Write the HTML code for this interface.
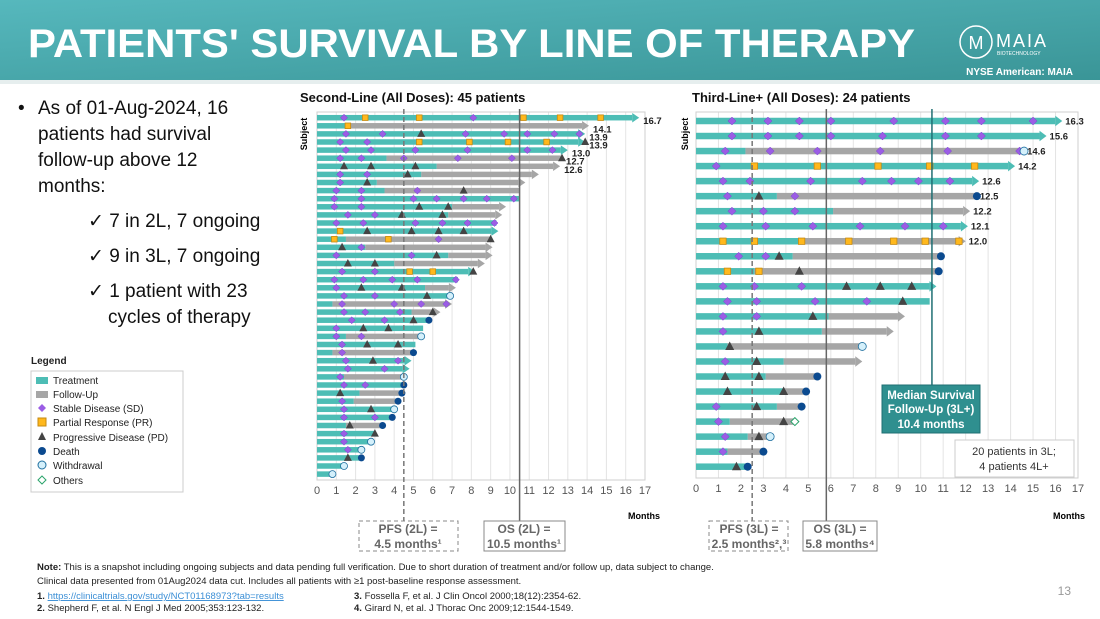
<!DOCTYPE html>
<html><head><meta charset="utf-8">
<style>
html,body{margin:0;padding:0;background:#fff;}
svg{display:block;font-family:"Liberation Sans",sans-serif;}
</style></head>
<body>
<svg id="s" width="1100" height="619" viewBox="0 0 1100 619" xmlns="http://www.w3.org/2000/svg">
<defs>
<linearGradient id="hdr" x1="0" y1="0" x2="1" y2="1">
<stop offset="0" stop-color="#56b8bd"/><stop offset="1" stop-color="#3a9597"/>
</linearGradient>
</defs>
<g>
<rect x="0" y="0" width="1100" height="80" fill="url(#hdr)"/>
<rect x="0" y="80" width="1100" height="4" fill="#e6eeee"/>
<text x="28" y="57" font-size="40" font-weight="bold" fill="#fff" textLength="887" lengthAdjust="spacingAndGlyphs">PATIENTS' SURVIVAL BY LINE OF THERAPY</text>
<g>
<circle cx="976" cy="42" r="16" fill="none" stroke="#fff" stroke-width="1.5"/>
<text x="976" y="49" font-size="18" fill="#fff" text-anchor="middle">M</text>
<text x="996" y="47" font-size="18" fill="#fff" letter-spacing="2">MAIA</text>
<text x="997" y="55" font-size="5" fill="#fff">BIOTECHNOLOGY</text>
<text x="1073" y="75" font-size="10" font-weight="bold" fill="#fff" text-anchor="end">NYSE American: MAIA</text>
</g>
</g>

<g font-size="19" fill="#111">
<text x="18" y="114">•</text>
<text x="38" y="114">As of 01-Aug-2024, 16</text>
<text x="38" y="140">patients had survival</text>
<text x="38" y="166">follow-up above 12</text>
<text x="38" y="192">months:</text>
<text x="88" y="227">✓ 7 in 2L, 7 ongoing</text>
<text x="88" y="262">✓ 9 in 3L, 7 ongoing</text>
<text x="88" y="297">✓ 1 patient with 23</text>
<text x="108" y="323">cycles of therapy</text>
</g>

<g font-size="10" fill="#222">
<text x="31" y="364" font-weight="bold" font-size="10">Legend</text>
<rect x="31" y="371" width="152" height="121" fill="#fff" stroke="#ccc"/>
<rect x="36" y="377" width="12" height="7" fill="#4dbdb5"/><text x="53" y="384">Treatment</text>
<rect x="36" y="391" width="12" height="7" fill="#a6a6a6"/><text x="53" y="398">Follow-Up</text>
<path d="M42 404 L46 408 L42 412 L38 408Z" fill="#9b5de5"/><text x="53" y="412">Stable Disease (SD)</text>
<rect x="38" y="418" width="8" height="8" fill="#ffb81c" stroke="#c68a12"/><text x="53" y="426">Partial Response (PR)</text>
<path d="M42 432 L46 440 L38 440Z" fill="#444"/><text x="53" y="441">Progressive Disease (PD)</text>
<circle cx="42" cy="451" r="4" fill="#0b4a8f"/><text x="53" y="455">Death</text>
<circle cx="42" cy="465" r="4" fill="#d4f0fb" stroke="#1e6f9f"/><text x="53" y="469">Withdrawal</text>
<path d="M42 476 L46 480 L42 484 L38 480Z" fill="#fff" stroke="#2aa36b"/><text x="53" y="484">Others</text>
</g>

<text x="300" y="102" font-size="13" font-weight="bold" fill="#111">Second-Line (All Doses): 45 patients</text>
<text x="692" y="102" font-size="13" font-weight="bold" fill="#111">Third-Line+ (All Doses): 24 patients</text>
<text transform="translate(307,134) rotate(-90)" font-size="9" font-weight="bold" text-anchor="middle">Subject</text>
<text transform="translate(688,134) rotate(-90)" font-size="9" font-weight="bold" text-anchor="middle">Subject</text>

<g id="c2"></g>
<g id="c3"></g>

<text x="644" y="519" font-size="9" font-weight="bold" text-anchor="middle">Months</text>
<text x="1069" y="519" font-size="9" font-weight="bold" text-anchor="middle">Months</text>

<g font-size="12" font-weight="bold" fill="#666" text-anchor="middle">
<g><rect x="359" y="521" width="99" height="30" fill="#fff" stroke="#888" stroke-dasharray="4,3"/><text x="408" y="533">PFS (2L) =</text><text x="408" y="548">4.5 months¹</text></g>
<g><rect x="484" y="521" width="81" height="30" fill="#fff" stroke="#888"/><text x="524" y="533">OS (2L) =</text><text x="524" y="548">10.5 months¹</text></g>
<g><rect x="709" y="521" width="79" height="30" fill="#fff" stroke="#888" stroke-dasharray="4,3"/><text x="749" y="533">PFS (3L) =</text><text x="749" y="548">2.5 months²,³</text></g>
<g><rect x="803" y="521" width="74" height="30" fill="#fff" stroke="#888"/><text x="840" y="533">OS (3L) =</text><text x="840" y="548">5.8 months⁴</text></g>
</g>

<g font-size="9.5" fill="#222">
<text x="37" y="570"><tspan font-weight="bold">Note:</tspan> This is a snapshot including ongoing subjects and data pending full verification. Due to short duration of treatment and/or follow up, data subject to change.</text>
<text x="37" y="584">Clinical data presented from 01Aug2024 data cut. Includes all patients with ≥1 post-baseline response assessment.</text>
<text x="37" y="599"><tspan font-weight="bold">1.</tspan> <tspan fill="#3b8fd6" text-decoration="underline">https://clinicaltrials.gov/study/NCT01168973?tab=results</tspan></text>
<text x="37" y="611"><tspan font-weight="bold">2.</tspan> Shepherd F, et al. N Engl J Med 2005;353:123-132.</text>
<text x="354" y="599"><tspan font-weight="bold">3.</tspan> Fossella F, et al. J Clin Oncol 2000;18(12):2354-62.</text>
<text x="354" y="611"><tspan font-weight="bold">4.</tspan> Girard N, et al. J Thorac Onc 2009;12:1544-1549.</text>
</g>
<text x="1071" y="595" font-size="12" fill="#999" text-anchor="end">13</text>
</svg>
<script>
// ---- 2L data: [treatmentEnd, totalEnd, ongoing, endMarker, label]
const rows2L = [
[16.7,16.7,1,'','16.7'],[1.6,14.1,1,'','14.1'],[13.9,13.9,1,'','13.9'],[13.9,13.9,1,'','13.9'],[13.0,13.0,1,'','13.0'],
[3.6,12.7,0,'','12.7'],[6.2,12.6,1,'','12.6'],[5.4,11.5,1,'',''],[3.1,10.8,1,'',''],[3.5,10.5,0,'',''],
[10.5,10.5,0,'',''],[7.0,9.8,1,'',''],[6.8,9.6,1,'',''],[9.3,9.3,0,'',''],[9.4,9.4,1,'',''],
[1.5,9.0,0,'',''],[2.5,9.1,1,'',''],[6.8,9.1,1,'',''],[4.0,8.7,1,'',''],[8.2,8.2,1,'',''],
[7.3,7.3,0,'',''],[5.6,7.2,1,'',''],[6.9,6.9,0,'W',''],[0.8,7.0,1,'',''],[4.9,6.4,1,'',''],
[5.8,5.8,0,'D',''],[5.5,5.5,0,'',''],[1.5,5.4,0,'W',''],[5.1,5.1,0,'',''],[0.8,5.0,0,'D',''],
[4.9,4.9,1,'',''],[4.8,4.8,1,'',''],[1.4,4.5,0,'W',''],[4.5,4.5,0,'D',''],[2.2,4.4,0,'D',''],
[1.9,4.2,0,'D',''],[4.0,4.0,0,'W',''],[3.9,3.9,0,'D',''],[1.5,3.4,0,'D',''],[3.0,3.0,0,'',''],
[2.8,2.8,0,'W',''],[2.3,2.3,0,'W',''],[2.3,2.3,0,'D',''],[1.4,1.4,0,'W',''],[0.8,0.8,0,'W','']];
const sd2L = [[1.4,8.1],[],[1.5,3.4,7.7,9.7,10.9,12.3,13.6],[1.2,2.6],[1.5,2.8,5.1,7.8,10.9,12.2],
[1.2,2.3,4.5,7.3,10.1],[],[1.2,2.6],[1.2],[1.0,2.3,5.2],
[0.9,2.3,5.0,6.2,7.6,8.8,10.2],[0.9,2.3],[1.6,3.0],[1.0,2.4,5.1,6.5,7.8,9.2],[],
[6.3],[2.3],[1.0,4.9],[],[1.3,3.0],
[0.9,2.4,3.9,5.2,7.2],[1.0],[1.4,3.0],[1.3,4.0,5.4,6.7],[1.4,2.5,4.3],
[1.8,3.5],[1.0],[1.0,2.3],[1.3],[1.3],
[1.5,4.2],[1.6,3.5],[1.2],[1.4,2.5],[],
[1.3],[1.4],[1.4,3.0],[],[1.4],
[1.4],[1.6],[],[],[]];
const pr2L = [[2.5,5.3,10.7,12.6,14.7],[1.6],[],[5.3,7.9,9.9,11.9],[],[],[],[],[],[],[],[],[],[],[1.2],
[0.9,3.7],[],[],[],[4.8,6.0],[],[],[],[],[],[],[],[],[],[],[],[],[],[],[],[],[],[],[],[],[],[],[],[],[]];
const pd2L = [[],[],[5.4],[13.9],[],[12.7],[1.4,2.8,5.1],[4.7],[2.6],[7.6],
[],[5.3,6.8],[4.4,6.5],[],[2.6,4.9,6.3,7.6],[9.0],[1.3],[6.2],[1.6,3.0],[8.1],
[],[2.3,4.4],[5.7],[],[6.0],[5.0],[2.4,3.7],[],[2.6,4.2],[],
[2.9],[],[],[],[1.2],[],[2.8],[],[1.7],[3.0],[],[],[1.6],[],[]];

// ---- 3L data
const rows3L = [
[16.3,16.3,1,'','16.3'],[15.6,15.6,1,'','15.6'],[2.2,14.6,0,'W','14.6'],[14.2,14.2,1,'','14.2'],[12.6,12.6,1,'','12.6'],
[3.6,12.5,0,'D','12.5'],[6.1,12.2,1,'','12.2'],[12.1,12.1,1,'','12.1'],[4.8,12.0,1,'','12.0'],[4.3,10.9,0,'D',''],
[2.6,10.8,0,'D',''],[10.7,10.7,1,'',''],[10.4,10.4,0,'',''],[5.9,9.3,1,'',''],[5.6,8.8,1,'',''],
[1.4,7.4,0,'W',''],[3.9,7.4,1,'',''],[3.1,5.4,0,'D',''],[3.9,4.9,0,'D',''],[3.6,4.7,0,'D',''],
[1.5,4.4,0,'O',''],[2.3,3.3,0,'W',''],[1.4,3.0,0,'D',''],[2.3,2.3,0,'D','']];
const sd3L = [[1.6,3.2,4.6,6.0,8.8,11.1,12.7,15.0],[1.6,3.2,4.6,6.0,8.3,11.1,12.7],[1.3,3.3,5.4,8.2,11.2,14.4],[0.9],[1.2,2.4,5.1,7.4,8.7,9.9,11.3],
[1.4,4.4],[1.6,3.0,4.4],[1.2,3.1,5.2,7.3,9.3,11.0],[],[1.9,3.1],
[],[1.2,2.6,4.7],[1.4,2.7,5.3,7.6],[1.2,2.7],[1.2],
[],[1.3],[],[],[0.9],[1.0],[1.3],[1.2],[]];
const pr3L = [[],[],[],[2.6,5.4,8.1,10.4,12.4],[],[],[],[],[1.2,2.6,4.7,6.8,8.8,10.2,11.7],[],
[1.4,2.8],[],[],[],[],[],[],[],[],[],[],[],[],[]];
const pd3L = [[],[],[],[],[],[2.8],[],[],[],[3.7],
[4.6],[6.7,8.2,9.6],[9.2],[5.2],[2.8],[1.5],[2.7],[1.3,2.8],[1.4,3.9],[2.7],[3.9],[2.8],[],[1.8]];
const xTicks = [0,1,2,3,4,5,6,7,8,9,10,11,12,13,14,15,16,17];

const NS='http://www.w3.org/2000/svg';
function mk(parent,tag,attrs){const e=document.createElementNS(NS,tag);for(const k in attrs)e.setAttribute(k,attrs[k]);parent.appendChild(e);return e;}

function drawChart(g, rows, sd, pr, pd, cfg){
  const X = v => cfg.x0 + v*(cfg.x1-cfg.x0)/17;
  const Y = i => cfg.y0 + i*cfg.dy;
  xTicks.forEach(t=>{
    const l=mk(g,'line',{x1:X(t),x2:X(t),y1:cfg.top,y2:cfg.bottom,stroke:'#e4e4e4','stroke-width':1});
    
    
    const tx=mk(g,'text',{x:X(t),y:cfg.bottom+14,'font-size':11,fill:'#555','text-anchor':'middle'});
    tx.textContent=t;
    
    
  });
  mk(g,'rect',{x:cfg.x0,y:cfg.top,width:cfg.x1-cfg.x0,height:cfg.bottom-cfg.top,fill:'none',stroke:'#cfcfcf'});
  const h=cfg.bh, m=cfg.ms;
  rows.forEach((r,i)=>{
    const y=Y(i);
    const row=mk(g,'g',{});
    
    
    const teal='#4dbdb5', gray='#a6a6a6';
    const endCol = r[1]>r[0] ? gray : teal;
    const endX = r[2] ? X(r[1]) - 7 : X(r[1]);
    if(r[1]>r[0]){
      const fb=mk(row,'rect',{x:X(r[0]),y:y-h/2,width:Math.max(0,endX-X(r[0])),height:h,fill:gray});
      
      
    }
    const tb=mk(row,'rect',{x:X(0),y:y-h/2,width:Math.max(0,Math.min(X(r[0]),endX)-X(0)),height:h,fill:teal});
    
    
    if(r[2]){
      const a=mk(row,'path',{d:`M${endX} ${y-h/2-2} L${X(r[1])} ${y} L${endX} ${y+h/2+2}Z`,fill:endCol});
      
      
    }
    sd[i].forEach(v=>{
      const d=mk(row,'path',{d:`M${X(v)} ${y-m/2} L${X(v)+m/2} ${y} L${X(v)} ${y+m/2} L${X(v)-m/2} ${y}Z`,fill:'#9b5de5',stroke:'#7b3fd0','stroke-width':0.5});
      
      
    });
    pr[i].forEach(v=>{
      const s=m*0.8;
      const q=mk(row,'rect',{x:X(v)-s/2,y:y-s/2,width:s,height:s,fill:'#ffb81c',stroke:'#c68a12','stroke-width':0.8});
      
      
    });
    pd[i].forEach(v=>{
      const t=mk(row,'path',{d:`M${X(v)} ${y-m/2-1} L${X(v)+m/2+0.5} ${y+m/2-0.5} L${X(v)-m/2-0.5} ${y+m/2-0.5}Z`,fill:'#444'});
      
      
    });
    const ex=X(r[1]);
    if(r[3]==='D'){
      const c=mk(row,'circle',{cx:ex,cy:y,r:m/2,fill:'#0b4a8f'});
      
      
    } else if(r[3]==='W'){
      const c=mk(row,'circle',{cx:ex,cy:y,r:m/2,fill:'#d4f0fb',stroke:'#1e6f9f','stroke-width':0.8});
      
      
    } else if(r[3]==='O'){
      const c=mk(row,'path',{d:`M${ex} ${y-m/2} L${ex+m/2} ${y} L${ex} ${y+m/2} L${ex-m/2} ${y}Z`,fill:'#fff',stroke:'#2aa36b'});
      
      
    }
    if(r[4]){
      const lb=mk(row,'text',{x:ex+cfg.lo,y:y+(cfg.ly||0)+3.5,'font-size':9.5,'font-weight':'bold',fill:'#222'});
      lb.textContent=r[4];
      
      
    }
  });
  cfg.lines.forEach(L=>{
    const l=mk(g,'line',{x1:X(L.v),x2:X(L.v),y1:cfg.top-3,y2:L.end||521,stroke:L.c,'stroke-width':L.w||1.5});
    if(L.dash) l.setAttribute('stroke-dasharray','5,3');
    
    
  });
}

drawChart(document.getElementById('c2'), rows2L, sd2L, pr2L, pd2L,
  {x0:317,x1:645,y0:117.7,dy:8.1,top:112,bottom:480,bh:5.5,ms:7,lo:4,ly:3,
   lines:[{v:4.5,c:'#777',dash:1,name:'pfs-2l-line'},{v:10.5,c:'#666',name:'os-2l-line'}]});
drawChart(document.getElementById('c3'), rows3L, sd3L, pr3L, pd3L,
  {x0:696,x1:1078,y0:121,dy:15.03,top:112,bottom:478,bh:6.5,ms:8,lo:3,ly:0,
   lines:[{v:2.5,c:'#777',dash:1,name:'pfs-3l-line'},{v:5.8,c:'#666',name:'os-3l-line'},{v:10.5,c:'#1f6f73',name:'median-followup-line',end:386}]});

const svg=document.getElementById('s');
const mb=mk(svg,'g',{});


mk(mb,'rect',{x:882,y:385,width:98,height:48,fill:'#2f8f8f',stroke:'#1f6f73'});
[['Median Survival',399],['Follow-Up (3L+)',413],['10.4 months',428]].forEach(([t,y])=>{
  const e=mk(mb,'text',{x:931,y:y,'font-size':11.5,'font-weight':'bold',fill:'#fff','text-anchor':'middle'});e.textContent=t;
});
const nb=mk(svg,'g',{});


mk(nb,'rect',{x:955,y:440,width:119,height:37,fill:'#fff',stroke:'#ccc'});
[['20 patients in 3L;',455],['4 patients 4L+',470]].forEach(([t,y])=>{
  const e=mk(nb,'text',{x:1014,y:y,'font-size':11,fill:'#333','text-anchor':'middle'});e.textContent=t;
});
</script>
</body></html>
